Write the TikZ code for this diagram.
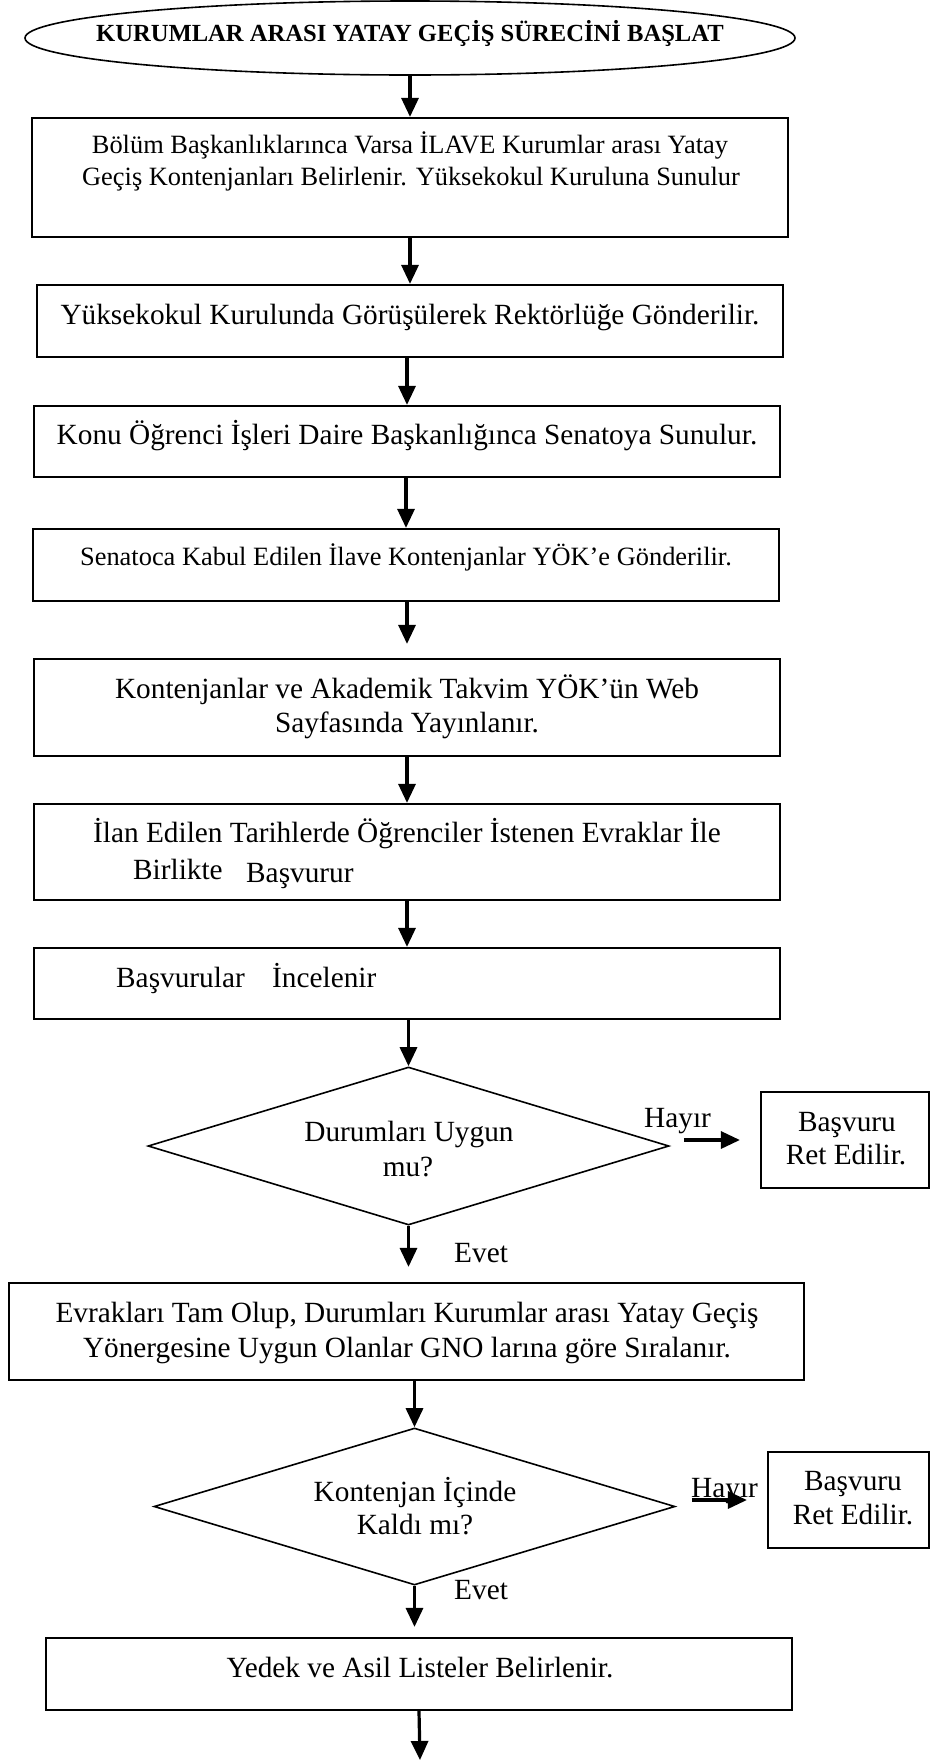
\documentclass[tikz,border=0pt]{standalone}
\usepackage{fontspec}
\setmainfont{Liberation Serif}
\usetikzlibrary{shapes.geometric,arrows.meta}
\begin{document}
\begin{tikzpicture}[x=1pt,y=-1pt,
  startshape/.style={draw, ellipse, line width=1.6pt, inner sep=0pt},
  stepbox/.style={draw, rectangle, line width=2.2pt, inner sep=0pt},
  decision/.style={draw, diamond, line width=1.6pt, inner sep=0pt},
  maintext/.style={inner sep=0pt, anchor=base, font=\fontsize{29.3}{34}\selectfont},
  smalltext/.style={inner sep=0pt, anchor=base, font=\fontsize{26.4}{32}\selectfont},
  titletext/.style={inner sep=0pt, anchor=base, font=\fontsize{24.6}{28}\selectfont\bfseries},
  arr/.style={line width=3.2pt, -{Triangle[length=19pt,width=17pt]}}
]
% page
\fill[white] (0,0) rectangle (930,1762);
\useasboundingbox (0,0) rectangle (930,1762);

% start
\node[startshape, minimum width=770pt, minimum height=74pt] (s) at (410,38) {};
\node[titletext] (ts) at (410,41) {KURUMLAR ARASI YATAY GEÇİŞ SÜRECİNİ BAŞLAT};

% process boxes
\node[stepbox, minimum width=756pt, minimum height=119pt] (b1) at (410,177.5) {};
\node[smalltext] (t1a) at (410,153) {Bölüm Başkanlıklarınca Varsa İLAVE Kurumlar arası Yatay};
\node[smalltext] (t1b) at (411,185) {Geçiş Kontenjanları Belirlenir. Yüksekokul Kuruluna Sunulur};

\node[stepbox, minimum width=746pt, minimum height=72pt] (b2) at (410,321) {};
\node[maintext] (t2) at (410,324) {Yüksekokul Kurulunda Görüşülerek Rektörlüğe Gönderilir.};

\node[stepbox, minimum width=746pt, minimum height=71pt] (b3) at (407,441.5) {};
\node[maintext] (t3) at (407,444) {Konu Öğrenci İşleri Daire Başkanlığınca Senatoya Sunulur.};

\node[stepbox, minimum width=746pt, minimum height=72pt] (b4) at (406,565) {};
\node[smalltext] (t4) at (406,565) {Senatoca Kabul Edilen İlave Kontenjanlar YÖK’e Gönderilir.};

\node[stepbox, minimum width=746pt, minimum height=97pt] (b5) at (407,707.5) {};
\node[maintext] (t5a) at (407,698) {Kontenjanlar ve Akademik Takvim YÖK’ün Web};
\node[maintext] (t5b) at (407,732) {Sayfasında Yayınlanır.};

\node[stepbox, minimum width=746pt, minimum height=96pt] (b6) at (407,852) {};
\node[maintext] (t6a) at (407,842) {İlan Edilen Tarihlerde Öğrenciler İstenen Evraklar İle};
\node[maintext, anchor=base west] (t6b) at (133,879) {Birlikte};
\node[maintext, anchor=base west] (t6c) at (246,882) {Başvurur};

\node[stepbox, minimum width=746pt, minimum height=71pt] (b7) at (407,983.5) {};
\node[maintext, anchor=base west] (t7a) at (116,987) {Başvurular};
\node[maintext, anchor=base west] (t7b) at (272,987) {İncelenir};

% first decision
\node[decision, minimum width=521pt, minimum height=158pt] (d1) at (408.5,1146) {};
\node[maintext] (td1a) at (409,1141) {Durumları Uygun};
\node[maintext] (td1b) at (408,1176) {mu?};

\node[stepbox, minimum width=168pt, minimum height=96pt] (r1) at (845,1140) {};
\node[maintext] (tr1a) at (847,1131) {Başvuru};
\node[maintext] (tr1b) at (846,1164) {Ret Edilir.};
\node[maintext, anchor=base west] (l1) at (644,1127) {Hayır};
\node[maintext, anchor=base west] (e1) at (454,1262) {Evet};

\node[stepbox, minimum width=795pt, minimum height=97pt] (b8) at (406.5,1331.5) {};
\node[maintext] (t8a) at (407,1322) {Evrakları Tam Olup, Durumları Kurumlar arası Yatay Geçiş};
\node[maintext] (t8b) at (407,1357) {Yönergesine Uygun Olanlar GNO larına göre Sıralanır.};

% second decision
\node[decision, minimum width=521pt, minimum height=157pt] (d2) at (414.5,1506.5) {};
\node[maintext] (td2a) at (415,1501) {Kontenjan İçinde};
\node[maintext] (td2b) at (415,1534) {Kaldı mı?};

\node[stepbox, minimum width=161pt, minimum height=96pt] (r2) at (848.5,1500) {};
\node[maintext] (tr2a) at (853,1490) {Başvuru};
\node[maintext] (tr2b) at (853,1524) {Ret Edilir.};
\node[maintext, anchor=base west] (l2) at (691,1497) {Hayır};
\node[maintext, anchor=base west] (e2) at (454,1599) {Evet};

\node[stepbox, minimum width=746pt, minimum height=72pt] (b9) at (419,1674) {};
\node[maintext] (t9) at (420,1677) {Yedek ve Asil Listeler Belirlenir.};

\coordinate (fin) at (420,1760);

% connectors
\draw[arr] (s.south) -- (b1.north);
\draw[arr] (b1.south) -- (b2.north);
\draw[arr] (b2.south -| b3.north) -- (b3.north);
\draw[arr] (b3.south -| b4.north) -- (b4.north);
\draw[arr, shorten >=14pt] (b4.south -| b5.north) -- (b5.north);
\draw[arr] (b5.south) -- (b6.north);
\draw[arr] (b6.south) -- (b7.north);
\draw[arr] (b7.south -| d1.north) -- (d1.north);
\draw[arr, shorten <=14pt, shorten >=20pt] (d1.east |- r1.west) -- (r1.west);
\draw[arr, shorten >=15pt] (d1.south) -- (d1.south |- b8.north);
\draw[arr] (b8.south -| d2.north) -- (d2.north);
\draw[arr, shorten <=16pt, shorten >=20pt] (d2.east |- r2.west) -- (r2.west);
\draw[arr, shorten >=10pt] (d2.south) -- (d2.south |- b9.north);
\draw[arr] (b9.south) -- (fin);
\end{tikzpicture}
\end{document}
